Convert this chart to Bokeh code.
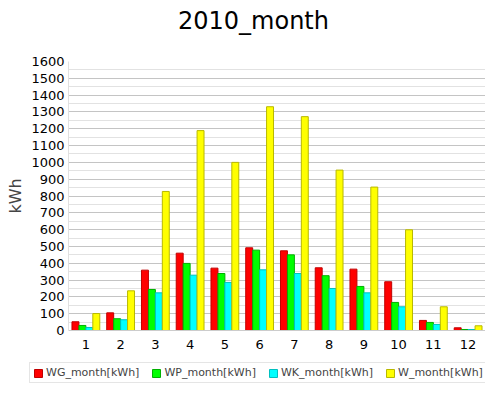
from bokeh.plotting import figure
from bokeh.layouts import column
from bokeh.models import (ColumnDataSource, FactorRange, Range1d, Legend, LegendItem,
                          SingleIntervalTicker, Div)
from bokeh.transform import dodge
from bokeh.embed import file_html
from bokeh.resources import INLINE

title_text = "2010_month"
months = ["1", "2", "3", "4", "5", "6", "7", "8", "9", "10", "11", "12"]
wg = [52, 105, 359, 460, 371, 492, 474, 373, 365, 290, 60, 16]
wp = [30, 70, 244, 399, 339, 478, 450, 326, 262, 167, 48, 6]
wk = [18, 64, 224, 329, 286, 361, 339, 250, 224, 141, 36, 6]
w = [101, 236, 827, 1189, 1000, 1331, 1272, 954, 853, 599, 141, 28]
series_names = ["WG_month[kWh]", "WP_month[kWh]", "WK_month[kWh]", "W_month[kWh]"]
colors = ["#ff0000", "#00ff00", "#00ffff", "#ffff00"]
outlines = ["#c00000", "#00b000", "#00c0c0", "#b8b800"]
cols = ["wg", "wp", "wk", "w"]
offsets = [-0.3, -0.1, 0.1, 0.3]

src = ColumnDataSource(dict(month=months, wg=wg, wp=wp, wk=wk, w=w))

title = Div(text='<div style="font-family:\'DejaVu Sans\';font-size:24px;line-height:42px;'
                 'height:42px;padding-left:178px;white-space:nowrap;color:black;margin:0;">'
                 + title_text + '</div>',
            width=485, height=42, margin=0)

p = figure(x_range=FactorRange(*months), y_range=Range1d(0, 1600),
           width=485, height=315,
           output_backend="svg", toolbar_location=None,
           min_border_left=68, min_border_right=0, min_border_top=19, min_border_bottom=27)
p.background_fill_color = "white"
p.outline_line_color = None

for col, off, c, oc in zip(cols, offsets, colors, outlines):
    p.vbar(x=dodge("month", off, range=p.x_range), top=col, width=0.2, source=src,
           fill_color=c, line_color=oc, line_width=1)

p.yaxis.ticker = SingleIntervalTicker(interval=100, num_minor_ticks=2)
p.yaxis.axis_label = "kWh"
p.yaxis.axis_label_text_font = "DejaVu Sans"
p.yaxis.axis_label_text_font_size = "16px"
p.yaxis.axis_label_text_font_style = "normal"
p.yaxis.axis_label_standoff = 3
p.yaxis.major_label_text_font = "DejaVu Sans"
p.yaxis.major_label_text_font_size = "13px"
p.yaxis.major_label_text_color = "black"
p.yaxis.major_label_standoff = 4
p.yaxis.axis_line_color = "#e0e0e0"
p.yaxis.major_tick_line_color = None
p.yaxis.minor_tick_line_color = None
p.yaxis.major_tick_out = 0
p.yaxis.minor_tick_out = 0

p.xaxis.major_label_text_font = "DejaVu Sans"
p.xaxis.major_label_text_font_size = "13px"
p.xaxis.major_label_text_color = "black"
p.xaxis.major_label_standoff = 9
p.xaxis.axis_line_color = "#cccccc"
p.xaxis.major_tick_line_color = None
p.xaxis.major_tick_out = 0

p.xgrid.grid_line_color = None
p.ygrid.grid_line_color = "#c4c4c4"
p.ygrid.minor_grid_line_color = "#e2e2e2"

# legend strip: its y range lies above every bar, so only the legend shows
p2 = figure(width=485, height=32, x_range=FactorRange(*months), y_range=Range1d(1700, 1800),
            output_backend="svg", toolbar_location=None,
            min_border_left=0, min_border_right=0, min_border_top=0, min_border_bottom=0)
p2.axis.visible = False
p2.grid.visible = False
p2.outline_line_color = None
items = []
for col, off, c, oc, name in zip(cols, offsets, colors, outlines, series_names):
    r = p2.vbar(x=dodge("month", off, range=p2.x_range), top=col, width=0.2, source=src,
                fill_color=c, line_color=oc, line_width=1)
    items.append(LegendItem(label=name, renderers=[r]))
legend = Legend(items=items, orientation="horizontal", location=(29, 6),
                label_text_font="DejaVu Sans", label_text_font_size="11px",
                glyph_width=10, glyph_height=10, spacing=12, padding=3,
                label_standoff=3, border_line_color="#cccccc", label_height=10,
                margin=0)
p2.add_layout(legend, "center")

layout = column(title, p, spacing=0)
open("out.html", "w").write(file_html([layout, p2], INLINE))
